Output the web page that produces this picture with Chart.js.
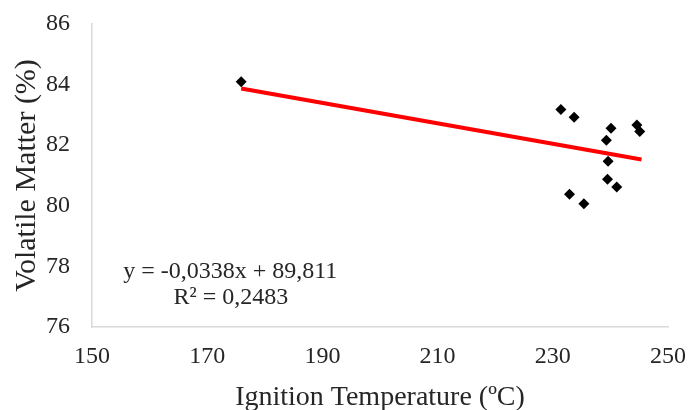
<!DOCTYPE html>
<html>
<head>
<meta charset="utf-8">
<script src="https://cdn.jsdelivr.net/npm/chart.js@4/dist/chart.umd.min.js"></script>
<style>
  html, body { margin: 0; padding: 0; background: #fff; }
  #wrap { width: 697px; height: 410px; position: relative; }
</style>
</head>
<body>
<div id="wrap"><canvas id="scatterChart"></canvas></div>
<script>
// Data
const ignitionTemp = [175.9, 231.4, 233.7, 240.1, 239.3, 244.6, 245.1, 239.6, 239.5, 241.1, 232.9, 235.4];
const volatileMatter = [84.09, 83.18, 82.92, 82.56, 82.16, 82.67, 82.45, 81.47, 80.88, 80.62, 80.38, 80.07];

// Trend line endpoints as drawn
const trendX = [175.9, 245.4];
const trendY = [83.87, 81.53];

const xTicks = [150, 170, 190, 210, 230, 250];
const yTicks = [76, 78, 80, 82, 84, 86];

const equationLines = ['y = -0,0338x + 89,811', 'R² = 0,2483'];

const serif = '"Liberation Serif", "Times New Roman", serif';

// Draws the trendline equation label inside the plot
const equationPlugin = {
    id: 'equationLabel',
    afterDatasetsDraw(chart) {
        const ctx = chart.ctx;
        const xs = chart.scales.x;
        const ys = chart.scales.y;
        ctx.save();
        ctx.font = '24px ' + serif;
        ctx.fillStyle = '#262626';
        ctx.textAlign = 'center';
        ctx.textBaseline = 'middle';
        ctx.fillText(equationLines[0], xs.getPixelForValue(174.0), ys.getPixelForValue(77.82));
        ctx.fillText(equationLines[1], xs.getPixelForValue(174.1), ys.getPixelForValue(76.96));
        ctx.restore();
    }
};

const ctx = document.getElementById('scatterChart').getContext('2d');
new Chart(ctx, {
    type: 'scatter',
    data: {
        datasets: [
            {
                label: 'Volatile Matter',
                data: ignitionTemp.map((x, i) => ({ x: x, y: volatileMatter[i] })),
                pointStyle: 'rectRot',
                pointRadius: 5.5,
                backgroundColor: '#000',
                borderColor: '#000',
                borderWidth: 0,
                order: 1
            },
            {
                type: 'line',
                label: 'Linear',
                data: trendX.map((x, i) => ({ x: x, y: trendY[i] })),
                borderColor: '#ff0000',
                borderWidth: 4,
                pointRadius: 0,
                fill: false,
                order: 2
            }
        ]
    },
    options: {
        responsive: true,
        maintainAspectRatio: false,
        animation: false,
        layout: { padding: { top: 24, right: 29, left: 0, bottom: 0 } },
        plugins: {
            legend: { display: false },
            tooltip: { enabled: false }
        },
        scales: {
            x: {
                type: 'linear',
                min: 150,
                max: 250,
                afterBuildTicks: (scale) => { scale.ticks = xTicks.map(v => ({ value: v })); },
                afterFit: (scale) => {
                    scale.height = 83;
                    scale.paddingLeft = 0;
                    scale.paddingRight = 0;
                },
                grid: { display: false, drawTicks: false },
                border: { display: true, color: '#d9d9d9', width: 1.5 },
                ticks: {
                    padding: 15,
                    color: '#262626',
                    font: { family: serif, size: 24 }
                },
                title: {
                    display: true,
                    text: 'Ignition Temperature (ºC)',
                    color: '#262626',
                    font: { family: serif, size: 28 },
                    padding: { top: 0, bottom: -4 }
                }
            },
            y: {
                type: 'linear',
                min: 76,
                max: 86,
                afterBuildTicks: (scale) => { scale.ticks = yTicks.map(v => ({ value: v })); },
                afterFit: (scale) => {
                    scale.width = 92;
                    scale.paddingTop = 0;
                    scale.paddingBottom = 0;
                },
                grid: { display: false, drawTicks: false },
                border: { display: true, color: '#d9d9d9', width: 1.5 },
                ticks: {
                    padding: 22,
                    color: '#262626',
                    font: { family: serif, size: 24 }
                },
                title: {
                    display: true,
                    text: 'Volatile Matter (%)',
                    color: '#262626',
                    font: { family: serif, size: 30 },
                    padding: { top: 9, bottom: 0 }
                }
            }
        }
    },
    plugins: [equationPlugin]
});
</script>
</body>
</html>
